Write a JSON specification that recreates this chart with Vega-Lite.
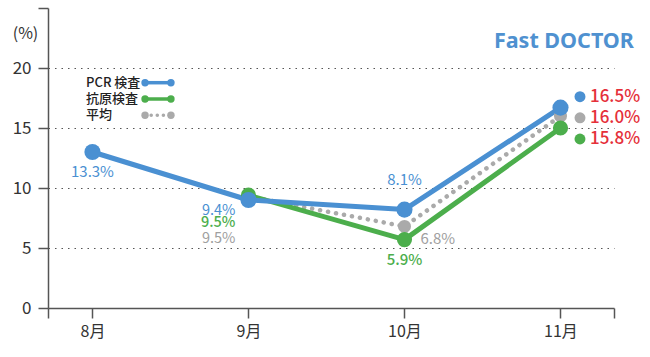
{
  "$schema": "https://vega.github.io/schema/vega-lite/v6.json",
  "width": 566,
  "height": 300,
  "autosize": {"type": "none"},
  "padding": {"left": 48, "top": 8, "right": 36, "bottom": 49},
  "config": {"view": {"stroke": null}, "font": "Noto Sans CJK JP"},
  "datasets": {
    "rates": [
      {"month": 8, "series": "PCR 検査", "value": 13.0, "label": "13.3%"},
      {"month": 9, "series": "PCR 検査", "value": 9.0, "label": "9.4%"},
      {"month": 10, "series": "PCR 検査", "value": 8.2, "label": "8.1%"},
      {"month": 11, "series": "PCR 検査", "value": 16.7, "label": "16.5%"},
      {"month": 9, "series": "抗原検査", "value": 9.4, "label": "9.5%"},
      {"month": 10, "series": "抗原検査", "value": 5.7, "label": "5.9%"},
      {"month": 11, "series": "抗原検査", "value": 15.0, "label": "15.8%"},
      {"month": 9, "series": "平均", "value": 9.3, "label": "9.5%"},
      {"month": 10, "series": "平均", "value": 6.8, "label": "6.8%"},
      {"month": 11, "series": "平均", "value": 16.0, "label": "16.0%"}
    ]
  },
  "layer": [
    {
      "data": {"name": "rates"},
      "encoding": {
        "x": {
          "field": "month", "type": "quantitative",
          "scale": {"domain": [7.715, 11.343], "nice": false, "zero": false},
          "axis": {
            "values": [7.715, 8, 9, 10, 11, 11.343],
            "labelExpr": "datum.value % 1 == 0 ? datum.value + '月' : ''",
            "title": null, "grid": false,
            "tickSize": 10, "tickWidth": 1.5, "tickColor": "#555",
            "domainColor": "#555", "domainWidth": 1.5,
            "labelFontSize": 16, "labelColor": "#333", "labelPadding": 5,
            "labelFont": "Noto Sans CJK JP"
          }
        },
        "y": {
          "field": "value", "type": "quantitative",
          "scale": {"domain": [0, 25], "nice": false},
          "axis": {
            "values": [0, 5, 10, 15, 20, 25],
            "labelExpr": "datum.value == 25 ? '' : datum.label",
            "title": "(%)", "titleAngle": 0, "titleX": -23, "titleY": 25,
            "titleAlign": "center", "titleBaseline": "middle",
            "titleFontSize": 16, "titleFontWeight": "normal", "titleColor": "#333",
            "titleFont": "Noto Sans CJK JP",
            "grid": true, "gridDash": [1.5, 5], "gridColor": "#555", "gridWidth": 1.2,
            "gridOpacity": {"condition": {"test": "datum.value == 0 || datum.value == 25", "value": 0}, "value": 1},
            "tickSize": 10, "tickWidth": 1.5, "tickColor": "#555",
            "domainColor": "#555", "domainWidth": 1.5,
            "labelFontSize": 17, "labelColor": "#333", "labelPadding": 7,
            "labelFont": "Noto Sans CJK JP"
          }
        }
      },
      "layer": [
        {"transform": [{"filter": "datum.series == '平均'"}],
         "mark": {"type": "line", "color": "#aaaaaa", "strokeWidth": 4.5, "strokeDash": [0.1, 8], "strokeCap": "round"}},
        {"transform": [{"filter": "datum.series == '抗原検査'"}],
         "mark": {"type": "line", "color": "#4cae4c", "strokeWidth": 5, "strokeCap": "round", "strokeJoin": "round"}},
        {"transform": [{"filter": "datum.series == 'PCR 検査'"}],
         "mark": {"type": "line", "color": "#4a90d2", "strokeWidth": 5, "strokeCap": "round", "strokeJoin": "round"}},
        {"transform": [{"filter": "datum.series == '平均'"}],
         "mark": {"type": "circle", "color": "#aaaaaa", "size": 170, "opacity": 1}},
        {"transform": [{"filter": "datum.series == '抗原検査'"}],
         "mark": {"type": "circle", "color": "#4cae4c", "size": 230, "opacity": 1}},
        {"transform": [{"filter": "datum.series == 'PCR 検査'"}],
         "mark": {"type": "circle", "color": "#4a90d2", "size": 260, "opacity": 1}},
        {"transform": [{"filter": "datum.series == 'PCR 検査' && datum.month == 8"}],
         "mark": {"type": "text", "color": "#4a90d2", "fontSize": 15, "align": "center", "baseline": "middle", "dy": 20},
         "encoding": {"text": {"field": "label"}}},
        {"transform": [{"filter": "datum.series == 'PCR 検査' && datum.month == 9"}],
         "mark": {"type": "text", "color": "#4a90d2", "fontSize": 14.5, "align": "right", "baseline": "middle", "dx": -13, "dy": 11},
         "encoding": {"text": {"field": "label"}}},
        {"transform": [{"filter": "datum.series == '抗原検査' && datum.month == 9"}],
         "mark": {"type": "text", "color": "#4cae4c", "fontSize": 14.5, "fontWeight": 500, "align": "right", "baseline": "middle", "dx": -13, "dy": 28},
         "encoding": {"text": {"field": "label"}}},
        {"transform": [{"filter": "datum.series == '平均' && datum.month == 9"}],
         "mark": {"type": "text", "color": "#a0a0a0", "fontSize": 14.5, "align": "right", "baseline": "middle", "dx": -13, "dy": 43},
         "encoding": {"text": {"field": "label"}}},
        {"transform": [{"filter": "datum.series == 'PCR 検査' && datum.month == 10"}],
         "mark": {"type": "text", "color": "#4a90d2", "fontSize": 15, "align": "center", "baseline": "middle", "dy": -30},
         "encoding": {"text": {"field": "label"}}},
        {"transform": [{"filter": "datum.series == '抗原検査' && datum.month == 10"}],
         "mark": {"type": "text", "color": "#4cae4c", "fontSize": 15, "fontWeight": 500, "align": "center", "baseline": "middle", "dy": 20},
         "encoding": {"text": {"field": "label"}}},
        {"transform": [{"filter": "datum.series == '平均' && datum.month == 10"}],
         "mark": {"type": "text", "color": "#a0a0a0", "fontSize": 15, "align": "left", "baseline": "middle", "dx": 16, "dy": 13},
         "encoding": {"text": {"field": "label"}}}
      ]
    },
    {
      "data": {"values": [{"brand": "Fast DOCTOR"}]},
      "mark": {"type": "text", "color": "#4f91d0", "font": "Noto Sans", "fontSize": 21.5, "fontWeight": "bold", "align": "right", "baseline": "middle"},
      "encoding": {
        "x": {"datum": 11.471},
        "y": {"datum": 22.2, "type": "quantitative", "scale": {"domain": [0, 25], "nice": false}, "axis": null},
        "text": {"field": "brand"}
      }
    },
    {
      "data": {"name": "rates"},
      "transform": [{"filter": "datum.month == 11"}],
      "encoding": {
        "y": {"field": "series", "type": "nominal",
              "scale": {"type": "point", "domain": ["PCR 検査", "抗原検査", "平均"], "range": [74.7, 107.3], "padding": 0},
              "axis": null},
        "color": {"field": "series", "type": "nominal",
                  "scale": {"domain": ["PCR 検査", "抗原検査", "平均"], "range": ["#4a90d2", "#4cae4c", "#aaaaaa"]},
                  "legend": null}
      },
      "layer": [
        {"mark": {"type": "text", "align": "left", "baseline": "middle", "fontSize": 13, "fontWeight": 500},
         "encoding": {"x": {"datum": 7.959}, "text": {"field": "series"}, "color": {"value": "#222"}}},
        {"transform": [{"filter": "datum.series != '平均'"}],
         "mark": {"type": "rule", "strokeWidth": 3.5},
         "encoding": {"x": {"datum": 8.337}, "x2": {"datum": 8.503}}},
        {"transform": [{"filter": "datum.series == '平均'"}],
         "mark": {"type": "rule", "strokeWidth": 3.5, "strokeDash": [0.1, 6], "strokeCap": "round"},
         "encoding": {"x": {"datum": 8.337}, "x2": {"datum": 8.503}}},
        {"mark": {"type": "circle", "size": 55, "opacity": 1},
         "encoding": {"x": {"datum": 8.337}}},
        {"mark": {"type": "circle", "size": 55, "opacity": 1},
         "encoding": {"x": {"datum": 8.503}}}
      ]
    },
    {
      "data": {"name": "rates"},
      "transform": [{"filter": "datum.month == 11"}],
      "encoding": {
        "y": {"field": "series", "type": "nominal",
              "scale": {"type": "point", "domain": ["PCR 検査", "平均", "抗原検査"], "range": [88.7, 131], "padding": 0},
              "axis": null},
        "x": {"datum": 11.125}
      },
      "layer": [
        {"mark": {"type": "circle", "size": 120, "opacity": 1},
         "encoding": {"color": {"field": "series", "type": "nominal",
                  "scale": {"domain": ["PCR 検査", "抗原検査", "平均"], "range": ["#4a90d2", "#4cae4c", "#aaaaaa"]},
                  "legend": null}}},
        {"mark": {"type": "text", "align": "left", "baseline": "middle", "dx": 10, "fontSize": 17, "fontWeight": 500, "color": "#e5303a"},
         "encoding": {"text": {"field": "label"}}}
      ]
    }
  ],
  "resolve": {"scale": {"y": "independent"}}
}
